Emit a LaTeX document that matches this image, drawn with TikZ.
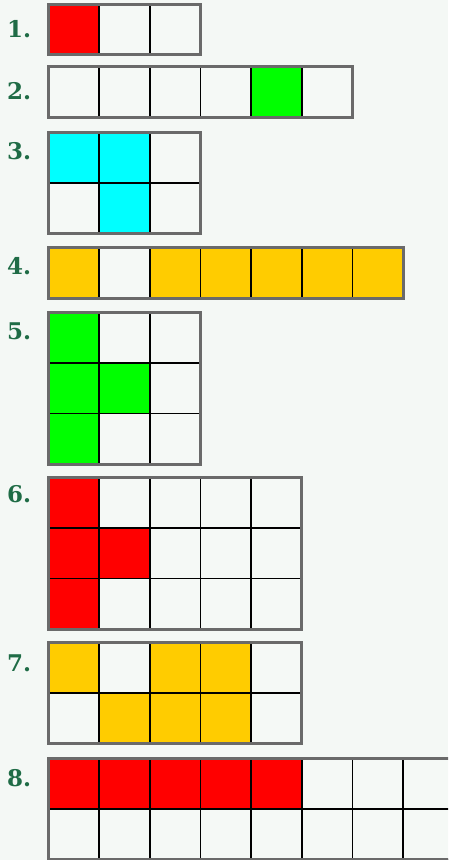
\documentclass[tikz,border=0pt]{standalone}
\usepackage{fontspec}
\newfontfamily\numfont{DejaVu Serif}
\usetikzlibrary{positioning}
\definecolor{pzpage}{HTML}{F4F8F5}
\definecolor{pzcell}{HTML}{F5F9F6}
\definecolor{pzframe}{HTML}{6A6A6A}
\definecolor{pzgreen}{HTML}{1F6C46}
\definecolor{pzred}{HTML}{FF0000}
\definecolor{pzlime}{HTML}{00FF00}
\definecolor{pzcyan}{HTML}{00FFFF}
\definecolor{pzamber}{HTML}{FFCC00}
\tikzset{
  numlbl/.style={anchor=base west, inner sep=0pt, text=pzgreen, font=\numfont\bfseries\fontsize{23}{23}\selectfont},
  gridline/.style={draw=black, line width=1.4pt},
  frame/.style={draw=pzframe, line width=3pt, line join=miter},
}
% #1 top of frame, #2 columns, #3 rows, #4 colour, #5 filled cells col/row
\newcommand{\pzgrid}[5]{%
  \begin{scope}[shift={(48.5,#1)}, xscale=50.67, yscale=50.5]
    \fill[pzcell] (0,0) rectangle (#2,#3);
    \foreach \c/\r in {#5} \fill[#4] (\c,\r) rectangle ++(1,1);
    \foreach \c in {1,...,#2} \draw[gridline] (\c,0) -- (\c,#3);
    \foreach \r in {1,...,#3} \draw[gridline] (0,\r) -- (#2,\r);
    \draw[frame] (0,0) rectangle (#2,#3);
  \end{scope}}
\begin{document}
\begin{tikzpicture}[x=1pt, y=-1pt]
  \fill[pzpage] (0,0) rectangle (448,860);
  \useasboundingbox (0,0) rectangle (448,860);
  \clip (0,0) rectangle (448,860);
  % labels
  \foreach \i/\y in {1/37, 2/99, 3/159, 4/274, 5/339, 6/502, 7/671, 8/786}
    \node[numlbl] (lbl\i) at (7,\y) {\i.};
  % grids
  \pzgrid{4}{3}{1}{pzred}{0/0}
  \pzgrid{66.5}{6}{1}{pzlime}{4/0}
  \pzgrid{132.5}{3}{2}{pzcyan}{0/0, 1/0, 1/1}
  \pzgrid{247.5}{7}{1}{pzamber}{0/0, 2/0, 3/0, 4/0, 5/0, 6/0}
  \pzgrid{312.5}{3}{3}{pzlime}{0/0, 0/1, 1/1, 0/2}
  \pzgrid{477.5}{5}{3}{pzred}{0/0, 0/1, 1/1, 0/2}
  \pzgrid{642.5}{5}{2}{pzamber}{0/0, 2/0, 3/0, 1/1, 2/1, 3/1}
  \pzgrid{758.5}{8}{2}{pzred}{0/0, 1/0, 2/0, 3/0, 4/0}
\end{tikzpicture}
\end{document}
